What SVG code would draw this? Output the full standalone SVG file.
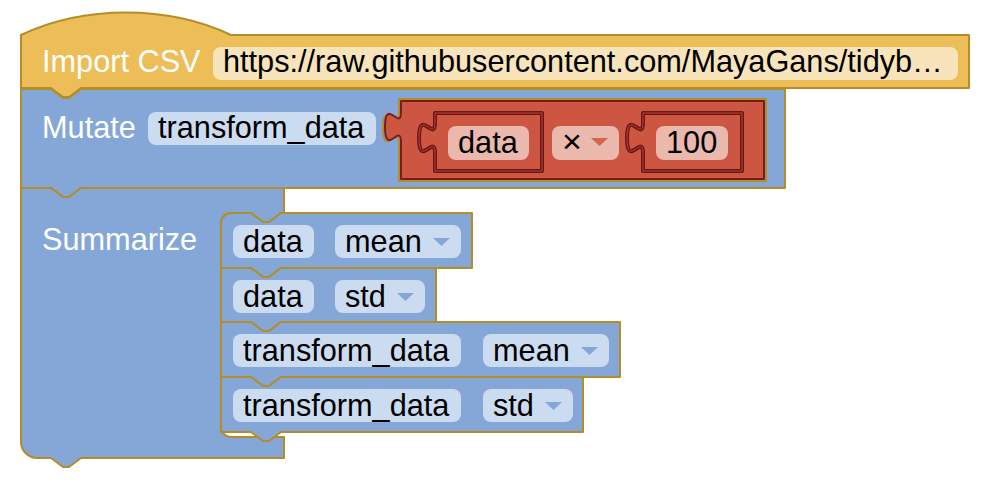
<svg xmlns="http://www.w3.org/2000/svg" width="988" height="486" viewBox="0 0 988 486">
<style>
text{font-family:"Liberation Sans",Arial,Helvetica,sans-serif;font-size:30.7px}
.lbl{fill:#fff}
.val{fill:#000}
.yel{fill:#edbd57;stroke:#b38e28;stroke-width:2;stroke-linejoin:round}
.blu{fill:#85a7d7;stroke:#b38e28;stroke-width:2;stroke-linejoin:round}
.red{fill:#cc5641;stroke:#7a1c1c;stroke-width:2;stroke-linejoin:round}
.sock{fill:#cc5641;stroke:#6e1515;stroke-width:4;stroke-linejoin:round}
.sockhi{fill:none;stroke:#b0493a;stroke-width:1}
.goldsock{fill:none;stroke:#b38e28;stroke-width:2}
.fy{fill:#f8e4ba}
.fb{fill:#ccdcf0}
.fr{fill:#ebb8ad}
.ab{fill:#85a7d7}
.ar{fill:#d4654f}
</style>
<rect width="988" height="486" fill="#fff"/>
<g id="connectors"/>
<g id="import-csv">
<path class="yel" d="M21,35 c63,-30 147,-30 210,0 H969 V88 H81 l-12,9 h-6 l-12,-9 H21 Z"/>
<text class="lbl" x="42" y="72">Import CSV</text>
<rect class="fy" x="213" y="47" width="745" height="33" rx="8"/>
<text class="val" x="223" y="72">https://raw.githubusercontent.com/MayaGans/tidyb…</text>
</g>
<g id="mutate">
<path class="blu" d="M21,89 H51 l12,9 h6 l12,-9 H785 V188 H81 l-12,9 h-6 l-12,-9 H21 Z"/>
<text class="lbl" x="42" y="138">Mutate</text>
<rect class="fb" x="148" y="112" width="228" height="33" rx="8"/>
<text class="val" x="158" y="138">transform_data</text>
<path class="goldsock" d="M399,99 H766 V181 H399 V143 c0,-20 -16,16 -16,-15 s16,5 16,-15 V99 Z"/>
</g>
<g id="multiply">
<path class="red" d="M401,101 H764 V179 H401 V142 c0,-20 -16,16 -16,-15 s16,5 16,-15 V101 Z"/>
<path class="sock" d="M435,113 H542 V171 H435 V153 c0,-20 -16,16 -16,-15 s16,5 16,-15 V113 Z"/>
<path class="sockhi" d="M435,113 H542 V171 H435 V153 c0,-20 -16,16 -16,-15 s16,5 16,-15 V113 Z"/>
<path class="sock" d="M643,113 H742 V171 H643 V153 c0,-20 -16,16 -16,-15 s16,5 16,-15 V113 Z"/>
<path class="sockhi" d="M643,113 H742 V171 H643 V153 c0,-20 -16,16 -16,-15 s16,5 16,-15 V113 Z"/>
<rect class="fr" x="552" y="126" width="67" height="34" rx="8"/>
<text class="val" x="562" y="153" style="font-size:34px">×</text>
<path class="ar" d="M591,138 h17 l-8.5,8 Z"/>
</g>
<g id="var-data">
<rect class="fr" x="448" y="126" width="81" height="34" rx="8"/>
<text class="val" x="458" y="153">data</text>
</g>
<g id="num-100">
<rect class="fr" x="656" y="126" width="72" height="34" rx="8"/>
<text class="val" x="666" y="153">100</text>
</g>
<g id="summarize">
<path class="blu" d="M21,188 H51 l12,9 h6 l12,-9 H284 V213 H281 l-12,9 h-6 l-12,-9 H231 a10,10 0 0 0 -10,10 V427 a10,10 0 0 0 10,10 H284 V458 H81 l-12,9 h-6 l-12,-9 H37 a16,16 0 0 1 -16,-16 Z"/>
<text class="lbl" x="42" y="250">Summarize</text>
</g>
<g id="data-mean">
<path class="blu" d="M221,223 a10,10 0 0 1 10,-10 H251 l12,9 h6 l12,-9 H472 V268 H281 l-12,9 h-6 l-12,-9 H221 Z"/>
<rect class="fb" x="233" y="225" width="81" height="33" rx="8"/>
<text class="val" x="243" y="252">data</text>
<rect class="fb" x="335" y="225" width="126" height="33" rx="8"/>
<text class="val" x="345" y="252">mean</text>
<path class="ab" d="M433,238 h17 l-8.5,8 Z"/>
</g>
<g id="data-std">
<path class="blu" d="M221,268 H251 l12,9 h6 l12,-9 H436 V322 H281 l-12,9 h-6 l-12,-9 H221 Z"/>
<rect class="fb" x="233" y="280" width="81" height="33" rx="8"/>
<text class="val" x="243" y="307">data</text>
<rect class="fb" x="335" y="280" width="90" height="33" rx="8"/>
<text class="val" x="345" y="307">std</text>
<path class="ab" d="M397,293 h17 l-8.5,8 Z"/>
</g>
<g id="transform-mean">
<path class="blu" d="M221,322 H251 l12,9 h6 l12,-9 H620 V377 H281 l-12,9 h-6 l-12,-9 H221 Z"/>
<rect class="fb" x="233" y="334" width="228" height="33" rx="8"/>
<text class="val" x="243" y="361">transform_data</text>
<rect class="fb" x="483" y="334" width="126" height="33" rx="8"/>
<text class="val" x="493" y="361">mean</text>
<path class="ab" d="M581,347 h17 l-8.5,8 Z"/>
</g>
<g id="transform-std">
<path class="blu" d="M221,377 H251 l12,9 h6 l12,-9 H583 V432 H281 l-12,9 h-6 l-12,-9 H221 Z"/>
<rect class="fb" x="233" y="389" width="228" height="33" rx="8"/>
<text class="val" x="243" y="416">transform_data</text>
<rect class="fb" x="483" y="389" width="90" height="33" rx="8"/>
<text class="val" x="493" y="416">std</text>
<path class="ab" d="M545,402 h17 l-8.5,8 Z"/>
</g>
</svg>
